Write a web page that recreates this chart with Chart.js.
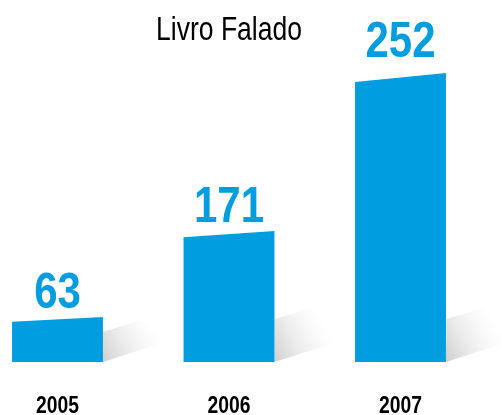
<!DOCTYPE html>
<html>
<head>
<meta charset="utf-8">
<script src="https://cdn.jsdelivr.net/npm/chart.js@4.4.1/dist/chart.umd.min.js"></script>
<style>
  html, body { margin: 0; padding: 0; background: #fff; }
  #wrap { width: 502px; height: 415px; }
</style>
</head>
<body>
<div id="wrap"><canvas id="livroChart"></canvas></div>
<script>
// Dados do gráfico
const years = ['2005', '2006', '2007'];
const values = [63, 171, 252];        // números mostrados acima das barras
const barLevels = [45, 131, 289];     // altura desenhada das barras (não proporcional)
const chartTitle = 'Livro Falado';

const blue = '#009ee0';
const sans = '"Liberation Sans", Arial, sans-serif';

// texto "estreito" (simula Arial Narrow, que não está instalada)
function narrowText(ctx, text, x, y, font, color, sx) {
    ctx.save();
    ctx.font = font;
    ctx.fillStyle = color;
    ctx.textAlign = 'center';
    ctx.textBaseline = 'alphabetic';
    ctx.translate(x, y);
    ctx.scale(sx, 1);
    ctx.fillText(text, 0, 0);
    ctx.restore();
}

// Desenha barras com topo inclinado, sombra e rótulos
const slantedBars = {
    id: 'slantedBars',
    beforeDatasetsDraw(chart) {
        const ctx = chart.ctx;
        const meta = chart.getDatasetMeta(0);
        const area = chart.chartArea;
        ctx.save();
        meta.data.forEach(function(bar, i) {
            const left = bar.x - bar.width / 2;
            const right = bar.x + bar.width / 2;
            const top = bar.y;
            const base = bar.base;
            const h = base - top;

            // sombra
            const sh = Math.min(43, h * 0.67);
            const grad = ctx.createLinearGradient(right, base, right + 62, base - 32);
            grad.addColorStop(0, 'rgba(180,180,180,0.65)');
            grad.addColorStop(0.5, 'rgba(222,222,222,0.42)');
            grad.addColorStop(1, 'rgba(255,255,255,0)');
            ctx.fillStyle = grad;
            ctx.beginPath();
            ctx.moveTo(right, base);
            ctx.lineTo(right, base - sh);
            ctx.lineTo(right + 38, base - sh - 11);
            ctx.lineTo(right + 62, base - 20);
            ctx.closePath();
            ctx.fill();

            // barra
            const slant = 4 + h * 0.017;
            ctx.fillStyle = blue;
            ctx.beginPath();
            ctx.moveTo(left, base);
            ctx.lineTo(left, top + slant);
            ctx.lineTo(right, top);
            ctx.lineTo(right, base);
            ctx.closePath();
            ctx.fill();

            // valor (um pouco mais alto nas barras grandes)
            const gap = 9 + Math.max(0, h - 150) * 0.05;
            narrowText(ctx, String(values[i]), bar.x, top - gap, 'bold 50px ' + sans, blue, 0.84);

            // ano
            narrowText(ctx, years[i], chart.scales.x.getPixelForTick(i), area.bottom + 51,
                'bold 23px ' + sans, '#000', 0.84);
        });

        // título
        narrowText(ctx, chartTitle, (area.left + area.right) / 2, 40, '34px ' + sans, '#000', 0.78);
        ctx.restore();
        return false;
    }
};

const ctx = document.getElementById('livroChart').getContext('2d');

const livroChart = new Chart(ctx, {
    type: 'bar',
    data: {
        labels: years,
        datasets: [{
            data: barLevels,
            backgroundColor: blue,
            barPercentage: 0.53,
            categoryPercentage: 1
        }]
    },
    options: {
        responsive: true,
        maintainAspectRatio: false,
        animation: false,
        layout: {
            padding: { left: 57.5, right: 101.5, top: 58, bottom: 53 }
        },
        plugins: {
            legend: { display: false },
            tooltip: { enabled: false },
            title: { display: false }
        },
        scales: {
            x: {
                display: false,
                offset: false
            },
            y: {
                display: false,
                min: 0,
                max: 304
            }
        }
    },
    plugins: [slantedBars]
});
</script>
</body>
</html>
